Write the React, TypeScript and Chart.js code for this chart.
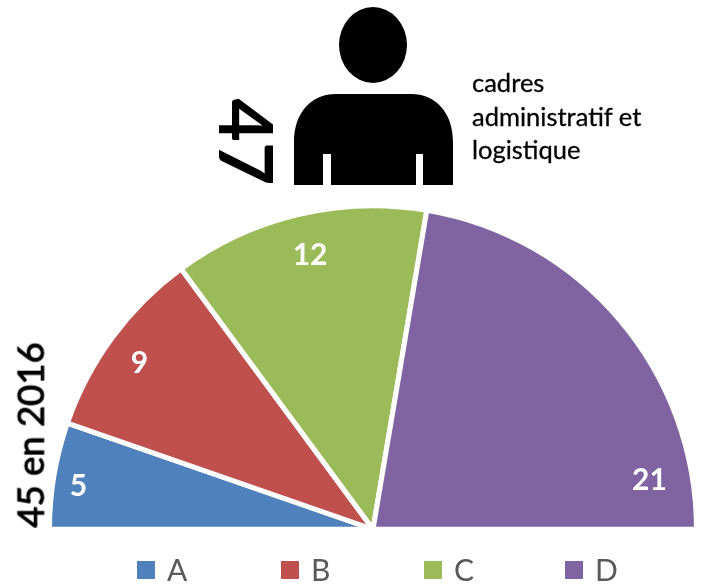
import React, { useEffect, useRef } from "react";
import { Chart, registerables } from "chart.js";

Chart.register(...registerables);

const categories = ["A", "B", "C", "D"];
const values = [5, 9, 12, 21];
const sliceColors = ["#4F81BD", "#C0504D", "#9BBB59", "#8064A2"];
// where each value label sits inside its slice: share of the slice's sweep, share of the radius
const labelAlong = [0.43, 0.47, 0.51, 0.875];
const labelRadial = [0.92, 0.885, 0.868, 0.868];
const captionLines = ["cadres", "administratif et", "logistique"];
const legendLeft = [137, 281, 424, 565];

const valueLabels = {
  id: "valueLabels",
  afterDatasetsDraw(chart: any) {
    const ctx = chart.ctx;
    const arcs = chart.getDatasetMeta(0).data;
    ctx.save();
    ctx.fillStyle = "#FFFFFF";
    ctx.font = "bold 30px Lato";
    ctx.textAlign = "center";
    ctx.textBaseline = "middle";
    arcs.forEach((arc: any, i: number) => {
      const angle = arc.startAngle + (arc.endAngle - arc.startAngle) * labelAlong[i];
      const r = arc.outerRadius * labelRadial[i];
      ctx.fillText(String(values[i]), arc.x + Math.cos(angle) * r, arc.y + Math.sin(angle) * r);
    });
    ctx.restore();
  },
};

const textBase: React.CSSProperties = {
  position: "absolute",
  color: "#000",
  whiteSpace: "nowrap",
  fontFamily: "Lato",
  lineHeight: 1,
};

export default function App() {
  const ref = useRef<HTMLCanvasElement>(null);
  useEffect(() => {
    const chart = new Chart(ref.current!, {
      type: "pie",
      data: {
        labels: categories,
        datasets: [
          {
            data: values,
            backgroundColor: sliceColors,
            borderColor: "#FFFFFF",
            borderWidth: 5,
          },
        ],
      },
      options: {
        responsive: false,
        animation: false,
        rotation: -90,
        circumference: 180,
        layout: { padding: { left: 47, right: 3, top: 203, bottom: 56 } },
        plugins: {
          tooltip: { enabled: false },
          legend: { display: false },
        },
      },
      plugins: [valueLabels],
    });
    return () => chart.destroy();
  }, []);

  return (
    <div style={{ position: "absolute", left: 0, top: 0, width: 702, height: 588, background: "#fff", overflow: "hidden" }}>
      <canvas ref={ref} width={702} height={588} style={{ position: "absolute", left: 0, top: 0 }} />
      <svg width={702} height={200} style={{ position: "absolute", left: 0, top: 0 }}>
        <ellipse cx={373} cy={45} rx={34} ry={38} fill="#000" />
        <path
          d="M294 185 V142 C294 112 312 94 336 94 H411 C435 94 453 112 453 142 V185 H423 V154 H416 V185 H331 V154 H323 V185 Z"
          fill="#000"
        />
      </svg>
      <div
        style={{
          ...textBase,
          left: 247,
          top: 141.5,
          fontSize: 75,
          fontWeight: 700,
          transform: "translate(-50%,-50%) rotate(90deg)",
        }}
      >
        47
      </div>
      <div
        style={{
          ...textBase,
          left: 30,
          top: 435,
          fontSize: 36.5,
          fontWeight: 400,
          WebkitTextStroke: "1px #000",
          transform: "translate(-50%,-50%) rotate(-90deg)",
        }}
      >
        45 en 2016
      </div>
      {captionLines.map((line, i) => (
        <div key={line} style={{ ...textBase, left: 472, top: 70 + i * 33.5, fontSize: 25.5, WebkitTextStroke: "0.3px #000" }}>
          {line}
        </div>
      ))}
      {categories.map((cat, i) => (
        <React.Fragment key={cat}>
          <div style={{ position: "absolute", left: legendLeft[i], top: 561, width: 18, height: 18, background: sliceColors[i] }} />
          <div style={{ ...textBase, left: legendLeft[i] + 30, top: 554, fontSize: 30, color: "#595959" }}>{cat}</div>
        </React.Fragment>
      ))}
    </div>
  );
}
